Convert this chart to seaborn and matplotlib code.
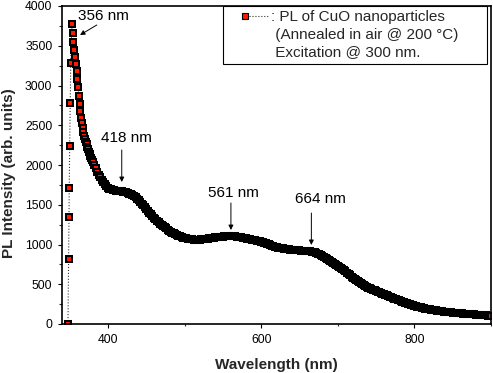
import numpy as np
import pandas as pd
import matplotlib
matplotlib.use("Agg")
import matplotlib.pyplot as plt
import seaborn as sns
from matplotlib.lines import Line2D
from matplotlib.legend_handler import HandlerLine2D
from matplotlib.ticker import MultipleLocator

# ---------------- data ----------------
rise_wavelength = [347.8, 348.6, 349.0, 349.5, 350.0, 350.8, 351.4]
rise_intensity = [0, 818, 1346, 1715, 2245, 2780, 3287]

peak_wavelength = [353, 354, 355, 356, 357, 358, 359, 360, 361, 362,
                   363, 364, 365, 366, 367, 368, 369, 370, 371, 372,
                   373, 374, 375, 376, 377, 378, 379, 380, 382, 384,
                   386, 388, 390, 392, 394, 396, 398]
peak_intensity = [3775, 3664, 3550, 3450, 3360, 3270, 3180, 3080, 2975, 2870,
                  2770, 2680, 2595, 2525, 2465, 2415, 2370, 2330, 2292, 2258,
                  2225, 2195, 2167, 2140, 2115, 2090, 2066, 2044, 2000, 1958,
                  1918, 1880, 1845, 1812, 1782, 1755, 1732]

tail_wavelength = list(range(400, 901, 2))
tail_intensity = [
    1712, 1700, 1692, 1685, 1680, 1676, 1673, 1671, 1670, 1669,
    1665, 1660, 1655, 1648, 1640, 1632, 1622, 1608, 1592, 1572,
    1555, 1535, 1514, 1492, 1470, 1447, 1424, 1401, 1378, 1356,
    1338, 1318, 1299, 1281, 1264, 1247, 1231, 1216, 1202, 1188,
    1175, 1162, 1150, 1139, 1129, 1119, 1110, 1102, 1095, 1088,
    1082, 1077, 1073, 1069, 1066, 1064, 1062, 1061, 1060, 1060,
    1061, 1063, 1065, 1068, 1071, 1074, 1077, 1080, 1084, 1087,
    1089, 1092, 1094, 1096, 1098, 1100, 1101, 1102, 1103, 1104,
    1104, 1103, 1102, 1101, 1099, 1097, 1094, 1091, 1087, 1083,
    1079, 1075, 1070, 1066, 1061, 1057, 1053, 1048, 1044, 1040,
    1035, 1029, 1023, 1016, 1009, 1001, 993, 985, 979, 973,
    967, 962, 958, 954, 950, 947, 944, 941, 938, 935,
    933, 931, 929, 927, 926, 925, 924, 923, 921, 920,
    918, 916, 913, 910, 906, 901, 894, 886, 877, 867,
    857, 846, 834, 822, 810, 797, 785, 772, 760, 748,
    735, 721, 707, 692, 677, 661, 645, 629, 613, 597,
    582, 567, 553, 539, 525, 512, 500, 488, 476, 466,
    456, 447, 439, 431, 423, 415, 407, 399, 391, 383,
    375, 367, 359, 351, 343, 335, 327, 319, 311, 303,
    296, 288, 281, 273, 266, 259, 252, 246, 240, 234,
    228, 223, 218, 212, 208, 203, 198, 194, 190, 186,
    183, 180, 176, 173, 170, 168, 165, 162, 160, 157,
    155, 152, 150, 148, 146, 144, 142, 140, 138, 136,
    135, 133, 131, 130, 128, 127, 125, 123, 122, 120,
    119, 117, 115, 114, 112, 111, 109, 108, 106, 105,
    104,
]

peak_labels = ["356 nm", "418 nm", "561 nm", "664 nm"]
# arrow tail (x, y), arrow head (x, y), label anchor (x, baseline y)
arrow_tails = [(385.4, 3761), (418, 2189), (560.5, 1522), (665.5, 1396)]
arrow_heads = [(363.5, 3635), (418, 1786), (560.5, 1182), (665.5, 994)]
label_pos = [(360.5, 3818), (391, 2289), (530.8, 1597), (644.6, 1518)]

legend_lines = [": PL of CuO nanoparticles",
                " (Annealed in air @ 200 \u00b0C)",
                " Excitation @ 300 nm."]

x_label = "Wavelength (nm)"
y_label = "PL Intensity (arb. units)"

# ---------------- style ----------------
sns.set_style("ticks")
plt.rcParams["font.family"] = ["Liberation Sans", "DejaVu Sans"]
plt.rcParams["axes.linewidth"] = 1.2

df = pd.DataFrame({
    "wavelength": rise_wavelength + peak_wavelength + tail_wavelength,
    "intensity": rise_intensity + peak_intensity + tail_intensity,
})

fig = plt.figure(figsize=(4.93, 3.73), dpi=100)
ax = fig.add_axes([62 / 493, 1 - 324 / 373, 429 / 493, 318 / 373])

line_color = "#333333"
marker_kw = dict(marker="s", markersize=4.1, markerfacecolor="#ff1a00",
                 markeredgecolor="black", markeredgewidth=1.45)

sns.lineplot(data=df, x="wavelength", y="intensity", ax=ax, sort=False,
             estimator=None, color=line_color, linestyle=":", linewidth=0.8,
             **marker_kw)

ax.set_xlim(340, 900)
ax.set_ylim(0, 4000)
ax.xaxis.set_major_locator(MultipleLocator(200))
ax.xaxis.set_minor_locator(MultipleLocator(100))
ax.yaxis.set_major_locator(MultipleLocator(500))
ax.yaxis.set_minor_locator(MultipleLocator(250))
ax.tick_params(axis="both", which="major", direction="out", length=2.9,
               width=0.8, pad=4.0, labelsize=8.7, colors="black")
ax.tick_params(axis="x", which="minor", direction="out", length=1.5, width=0.8)
ax.tick_params(axis="y", which="minor", direction="out", length=2.2, width=0.8)
ax.tick_params(top=False, right=False, which="both")
for s in ax.spines.values():
    s.set_visible(True)
    s.set_color("black")
    s.set_linewidth(1.2)

ax.set_xlabel(x_label, fontsize=11, fontweight="bold", va="center", ha="center")
ax.set_ylabel(y_label, fontsize=11, fontweight="bold", va="center", ha="center")
ax.xaxis.set_label_coords(0.4988, -0.129)
ax.yaxis.set_label_coords(-0.1247, 0.4733)

# annotations
for lab, tail, head, pos in zip(peak_labels, arrow_tails, arrow_heads, label_pos):
    ax.annotate("", xy=head, xytext=tail,
                arrowprops=dict(arrowstyle="-|>", color="black", lw=0.7,
                                mutation_scale=7, shrinkA=0, shrinkB=0))
    ax.text(pos[0], pos[1], lab, fontsize=11, ha="left", va="baseline",
            color="black")


# legend with marker at left end of the dotted handle
class MarkerLeftHandler(HandlerLine2D):
    def create_artists(self, legend, orig_handle, xdescent, ydescent,
                       width, height, fontsize, trans):
        y = (height - ydescent) / 2
        x0 = -xdescent
        ln = Line2D([x0 + 0.52 * width, x0 + width], [y, y])
        self.update_prop(ln, orig_handle, legend)
        ln.set_marker("None")
        mk = Line2D([x0 + 0.44 * width], [y])
        self.update_prop(mk, orig_handle, legend)
        mk.set_linestyle("None")
        ln.set_transform(trans)
        mk.set_transform(trans)
        return [ln, mk]


h1 = Line2D([], [], color=line_color, linestyle=":", linewidth=0.8,
            marker="s", markersize=4.6, markerfacecolor="#ff1a00",
            markeredgecolor="black", markeredgewidth=0.8)
h2 = Line2D([], [], linestyle="None")
h3 = Line2D([], [], linestyle="None")
leg = ax.legend([h1, h2, h3], legend_lines, loc="upper left",
                bbox_to_anchor=(0.3753, 0.0, 0.6154, 1.0), mode="expand",
                borderaxespad=0, borderpad=0.28, labelspacing=0.23,
                handlelength=2.68, handletextpad=0.2, fontsize=11,
                frameon=True, fancybox=False, edgecolor="black",
                framealpha=1, handler_map={h1: MarkerLeftHandler()})
leg.get_frame().set_linewidth(0.8)

fig.savefig("out.png", dpi=100)
